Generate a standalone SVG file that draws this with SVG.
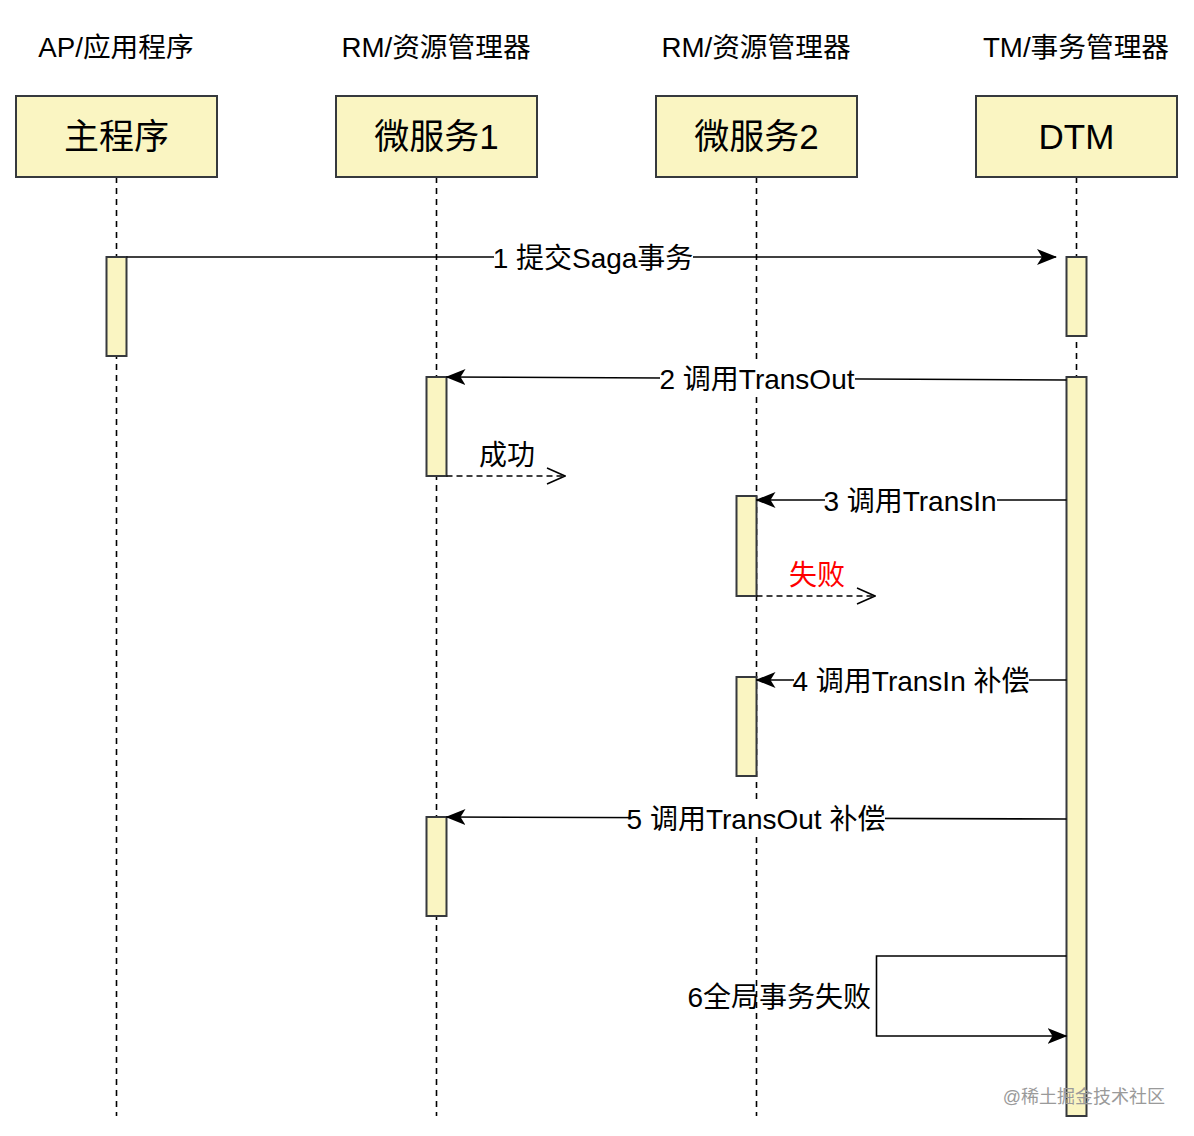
<svg xmlns="http://www.w3.org/2000/svg" width="1194" height="1136" viewBox="0 0 1194 1136">
<defs>
<marker id="block" viewBox="0 0 20 16" refX="19" refY="8" markerWidth="20" markerHeight="16" markerUnits="userSpaceOnUse" orient="auto">
<path d="M0,0 L20,8 L0,16 L5,8 Z" fill="#000"/>
</marker>
<marker id="open" viewBox="0 0 20 20" refX="19" refY="10" markerWidth="20" markerHeight="20" markerUnits="userSpaceOnUse" orient="auto">
<path d="M1,2 L19,10 L1,18" fill="none" stroke="#000" stroke-width="1.5"/>
</marker>
</defs>
<style>
text{font-family:"Liberation Sans","Noto Sans CJK SC",sans-serif;fill:#000}
.hdr{font-size:27.7px;text-anchor:middle}
.box{fill:#FAF5C2;stroke:#36393d;stroke-width:2}
.boxt{font-size:35px;text-anchor:middle}
.life{stroke:#000;stroke-width:1.6;stroke-dasharray:6 5;fill:none}
.act{fill:#FAF5C2;stroke:#36393d;stroke-width:2}
.msg{stroke:#000;stroke-width:1.6;fill:none}
.ret{stroke:#000;stroke-width:1.6;fill:none;stroke-dasharray:6 4}
.lbl{font-size:28px;text-anchor:middle}
.lblbg{fill:#fff}
</style>
<rect width="1194" height="1136" fill="#fff"/>
<g id="lifelines">
<line class="life" x1="116.5" y1="177" x2="116.5" y2="1116"/>
<line class="life" x1="436.5" y1="177" x2="436.5" y2="1116"/>
<line class="life" x1="756.5" y1="177" x2="756.5" y2="1116"/>
<line class="life" x1="1076.5" y1="177" x2="1076.5" y2="380"/>
</g>
<g id="headers">
<text class="hdr" x="116" y="57">AP/应用程序</text>
<text class="hdr" x="436" y="57">RM/资源管理器</text>
<text class="hdr" x="756" y="57">RM/资源管理器</text>
<text class="hdr" x="1076" y="57">TM/事务管理器</text>
</g>
<g id="node-main"><rect class="box" x="16" y="96" width="201" height="81"/><text class="boxt" x="116.5" y="149">主程序</text></g>
<g id="node-ms1"><rect class="box" x="336" y="96" width="201" height="81"/><text class="boxt" x="436.5" y="149">微服务1</text></g>
<g id="node-ms2"><rect class="box" x="656" y="96" width="201" height="81"/><text class="boxt" x="756.5" y="149">微服务2</text></g>
<g id="node-dtm"><rect class="box" x="976" y="96" width="201" height="81"/><text class="boxt" x="1076.5" y="149">DTM</text></g>
<g id="activations">
<rect class="act" x="106.5" y="257" width="20" height="99"/>
<rect class="act" x="1066.5" y="257" width="20" height="79"/>
<rect class="act" x="1066.5" y="377" width="20" height="739"/>
<rect class="act" x="426.5" y="377" width="20" height="99"/>
<rect class="act" x="426.5" y="817" width="20" height="99"/>
<rect class="act" x="736.5" y="496" width="20" height="100"/>
<rect class="act" x="736.5" y="677" width="20" height="99"/>
</g>
<g id="connectors">
<line class="msg" x1="126.5" y1="257" x2="1056" y2="257" marker-end="url(#block)"/>
<line class="msg" x1="1066.5" y1="380" x2="446.5" y2="377" marker-end="url(#block)"/>
<line class="ret" x1="446.5" y1="476" x2="565" y2="476" marker-end="url(#open)"/>
<line class="msg" x1="1066.5" y1="500" x2="756.5" y2="500" marker-end="url(#block)"/>
<line class="ret" x1="756.5" y1="596" x2="875" y2="596" marker-end="url(#open)"/>
<line class="msg" x1="1066.5" y1="680" x2="756.5" y2="680" marker-end="url(#block)"/>
<line class="msg" x1="1066.5" y1="819" x2="446.5" y2="817" marker-end="url(#block)"/>
<polyline class="msg" points="1066.5,956 876.5,956 876.5,1036 1066.5,1036" marker-end="url(#block)"/>
</g>
<g id="labels">
<rect class="lblbg" x="494" y="243" width="199" height="30"/>
<text class="lbl" x="593" y="268">1 提交Saga事务</text>
<rect class="lblbg" x="660" y="364" width="195" height="30"/>
<text class="lbl" x="757" y="389">2 调用TransOut</text>
<text class="lbl" x="507" y="465">成功</text>
<rect class="lblbg" x="825" y="486" width="172" height="30"/>
<text class="lbl" x="910" y="511">3 调用TransIn</text>
<text class="lbl" x="817" y="585" style="fill:#FF0000">失败</text>
<rect class="lblbg" x="794" y="666" width="235" height="30"/>
<text class="lbl" x="911" y="691">4 调用TransIn 补偿</text>
<rect class="lblbg" x="629" y="804" width="256" height="30"/>
<text class="lbl" x="756" y="829">5 调用TransOut 补偿</text>
<text class="lbl" x="871" y="1007" style="text-anchor:end">6全局事务失败</text>
<text x="1165" y="1103" style="font-size:18px;text-anchor:end;fill:#9a9a9a">@稀土掘金技术社区</text>
</g>
</svg>
